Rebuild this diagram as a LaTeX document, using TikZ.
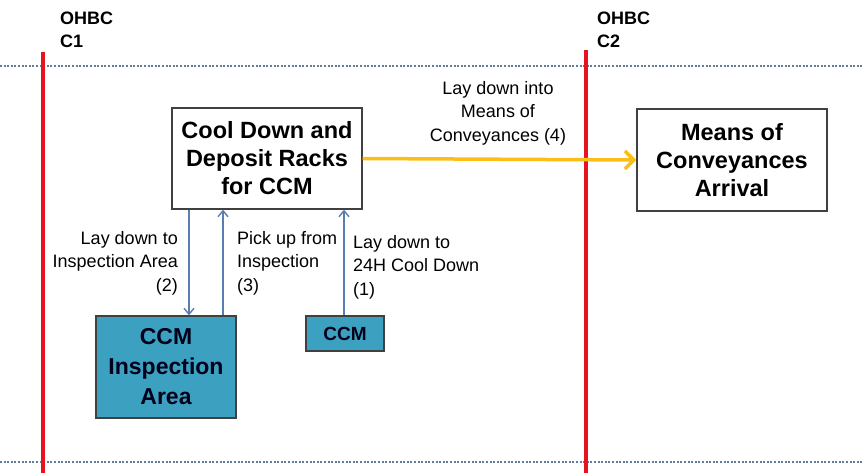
\documentclass[tikz,border=0pt]{standalone}
\usepackage{fontspec}
\setmainfont{Liberation Sans}
\usetikzlibrary{arrows.meta}

\definecolor{railred}{RGB}{230,20,30}
\definecolor{dotblue}{RGB}{95,125,155}
\definecolor{flowblue}{RGB}{90,125,175}
\definecolor{flowyellow}{RGB}{250,190,20}
\definecolor{ccmteal}{RGB}{60,160,192}

\begin{document}
\begin{tikzpicture}[x=1pt, y=-1pt,
    box/.style={draw=black!75, line width=1.3pt, fill=white, align=center,
                font=\bfseries\fontsize{23.5}{28}\selectfont, inner sep=0pt},
    ccmbox/.style={box, fill=ccmteal, text=black!90!blue},
    lbl/.style={font=\fontsize{18}{23.5}\selectfont, inner sep=0pt},
    rail/.style={railred, line width=3.5pt},
    border/.style={dotblue, line width=2.2pt, dash pattern=on 2pt off 1.6pt},
    flow/.style={flowblue, line width=1.4pt, -{Straight Barb[length=6pt, width=10pt]}},
    move/.style={flowyellow, line width=3.5pt, -{Straight Barb[length=9pt, width=18pt]}}]
    \useasboundingbox (0,0) rectangle (862,473);

    % crane bay limits
    \draw[border] (0,66) -- (862,66);
    \draw[border] (0,462) -- (862,462);
    \coordinate (c1top) at (43,52);  \coordinate (c1bot) at (43,473);
    \coordinate (c2top) at (586,50); \coordinate (c2bot) at (586,473);
    \draw[rail] (c1top) -- (c1bot);
    \draw[rail] (c2top) -- (c2bot);
    \node[font=\bfseries\fontsize{18}{23}\selectfont, align=left, anchor=north west, inner sep=0pt]
        (c1) at (60,12) {OHBC\\C1};
    \node[font=\bfseries\fontsize{18}{23}\selectfont, align=left, anchor=north west, inner sep=0pt]
        (c2) at (597,12) {OHBC\\C2};

    % boxes
    \node[box, minimum width=190pt, minimum height=101pt] (racks) at (267,158.5)
        {Cool Down and\\Deposit Racks\\for CCM};
    \node[box, minimum width=190pt, minimum height=102pt] (means) at (732,160)
        {Means of\\Conveyances\\Arrival};
    \node[ccmbox, font=\bfseries\fontsize{23}{30}\selectfont,
          minimum width=140pt, minimum height=102pt] (insp) at (166,367)
        {CCM\\Inspection\\Area};
    \node[ccmbox, font=\bfseries\fontsize{19}{22}\selectfont,
          minimum width=78pt, minimum height=35pt] (ccm) at (345,333.5) {CCM};

    % moves between racks and inspection
    \draw[flow] (racks.south -| 189,0) -- (insp.north -| 189,0);
    \draw[flow] (insp.north -| 223,0) -- (racks.south -| 223,0);
    \draw[flow] (ccm.north -| 344,0) -- (racks.south -| 344,0);
    \draw[move] (racks.east) -- (means.west);

    \node[lbl, align=right, anchor=north east] (l2) at (178,231)
        {Lay down to\\Inspection Area\\(2)};
    \node[lbl, align=left, anchor=north west] (l3) at (237,231)
        {Pick up from\\Inspection\\(3)};
    \node[lbl, align=left, anchor=north west] (l1) at (353,235)
        {Lay down to\\24H Cool Down\\(1)};
    \node[lbl, align=center, anchor=north] (l4) at (498,81)
        {Lay down into\\Means of\\Conveyances (4)};
\end{tikzpicture}
\end{document}
